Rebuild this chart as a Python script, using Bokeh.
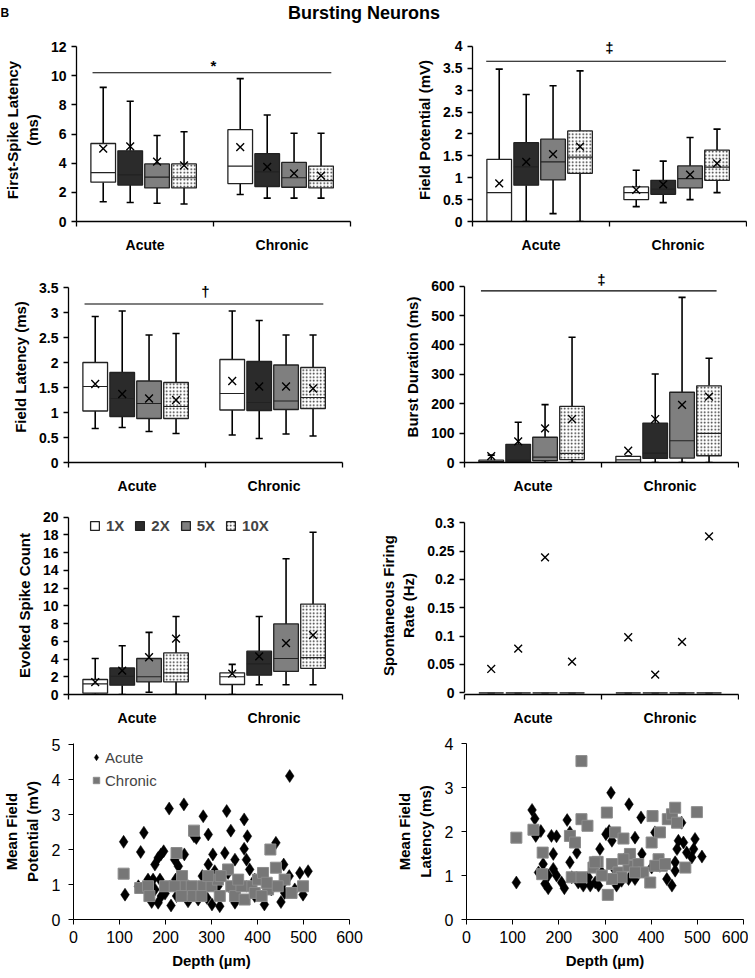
from bokeh.plotting import figure
from bokeh.layouts import column, row
from bokeh.models import (Range1d, FixedTicker, Label, Legend, LegendItem,
                          ColumnDataSource)
from bokeh.embed import file_html
from bokeh.resources import INLINE

FONT = "Liberation Sans"

# ---------------- data ----------------
groups = ["Acute", "Chronic"]
doses = ["1X", "2X", "5X", "10X"]
# every box list: Acute 1X, 2X, 5X, 10X, Chronic 1X, 2X, 5X, 10X

# First-spike latency (ms)
fsl_min = [1.35, 1.3, 1.25, 1.2, 1.85, 1.6, 1.6, 1.6]
fsl_q1 = [2.7, 2.5, 2.3, 2.3, 2.6, 2.4, 2.35, 2.3]
fsl_med = [3.35, 3.2, 3.05, 3.0, 3.8, 3.4, 3.0, 2.8]
fsl_q3 = [5.35, 4.85, 3.95, 3.95, 6.3, 4.65, 4.05, 3.8]
fsl_max = [9.2, 8.25, 5.9, 6.15, 9.8, 7.3, 6.05, 6.05]
fsl_mean = [5.0, 5.15, 4.1, 3.85, 5.1, 3.75, 3.3, 3.15]
fsl_ticks = [0, 2, 4, 6, 8, 10, 12]
fsl_labels = ["0", "2", "4", "6", "8", "10", "12"]

# Field potential (mV)
fp_min = [0, 0, 0.18, 0, 0.34, 0.43, 0.5, 0.66]
fp_q1 = [0, 0.83, 0.95, 1.1, 0.5, 0.62, 0.77, 0.94]
fp_med = [0.66, 1.25, 1.36, 1.47, 0.66, 0.74, 0.98, 1.24]
fp_q3 = [1.42, 1.8, 1.88, 2.07, 0.79, 0.94, 1.27, 1.63]
fp_max = [3.48, 2.9, 3.1, 3.44, 1.17, 1.38, 1.92, 2.11]
fp_mean = [0.87, 1.36, 1.54, 1.71, 0.72, 0.85, 1.07, 1.33]
fp_ticks = [0, 0.5, 1, 1.5, 2, 2.5, 3, 3.5, 4]
fp_labels = ["0", "0.5", "1", "1.5", "2", "2.5", "3", "3.5", "4"]

# Field latency (ms)
fl_min = [0.68, 0.7, 0.62, 0.58, 0.55, 0.48, 0.57, 0.53]
fl_q1 = [1.03, 0.92, 0.88, 0.88, 1.05, 1.04, 1.06, 1.08]
fl_med = [1.52, 1.28, 1.18, 1.12, 1.38, 1.2, 1.23, 1.3]
fl_q3 = [2.0, 1.8, 1.63, 1.6, 2.06, 2.02, 1.95, 1.9]
fl_max = [2.92, 3.03, 2.55, 2.58, 3.03, 2.84, 2.55, 2.55]
fl_mean = [1.57, 1.37, 1.28, 1.25, 1.63, 1.52, 1.52, 1.48]
fl_ticks = [0, 0.5, 1, 1.5, 2, 2.5, 3, 3.5]
fl_labels = ["0", "0.5", "1", "1.5", "2", "2.5", "3", "3.5"]

# Burst duration (ms)
bd_min = [0, 0, 0, 0, 0, 0, 0, 0]
bd_q1 = [0, 2, 6, 10, 0, 14, 15, 23]
bd_med = [3, 8, 18, 31, 9, 32, 74, 99]
bd_q3 = [8, 62, 86, 191, 21, 134, 239, 261]
bd_max = [25, 137, 197, 426, 22, 301, 562, 355]
bd_mean = [22, 72, 116, 148, 40, 148, 196, 224]
bd_ticks = [0, 100, 200, 300, 400, 500, 600]
bd_labels = ["0", "100", "200", "300", "400", "500", "600"]

# Evoked spike count
es_min = [0, 0, 0.25, 0, 0, 1.1, 1.1, 1.1]
es_q1 = [0.15, 1.05, 1.42, 1.42, 1.13, 2.18, 2.6, 2.95]
es_med = [1.2, 2.06, 2.0, 2.44, 2.0, 3.45, 4.06, 4.15]
es_q3 = [1.69, 3.0, 4.06, 4.69, 2.44, 4.88, 7.96, 10.2]
es_max = [4.06, 5.5, 7.0, 8.8, 3.4, 8.8, 15.3, 18.3]
es_mean = [1.39, 2.7, 4.2, 6.3, 2.35, 4.3, 5.8, 6.7]
es_ticks = [0, 2, 4, 6, 8, 10, 12, 14, 16, 18, 20]
es_labels = ["0", "2", "4", "6", "8", "10", "12", "14", "16", "18", "20"]

# Spontaneous firing rate (Hz)
sfr_min = [0, 0, 0, 0, 0, 0, 0, 0]
sfr_q1 = [0, 0, 0, 0, 0, 0, 0, 0]
sfr_med = [0, 0, 0, 0, 0, 0, 0, 0]
sfr_q3 = [0, 0, 0, 0, 0, 0, 0, 0]
sfr_max = [0, 0, 0, 0, 0, 0, 0, 0]
sfr_mean = [0.042, 0.078, 0.239, 0.055, 0.098, 0.032, 0.09, 0.276]
sfr_ticks = [0, 0.05, 0.1, 0.15, 0.2, 0.25, 0.3]
sfr_labels = ["0", "0.05", "0.1", "0.15", "0.2", "0.25", "0.3"]

# Mean field potential vs depth
mfp_acute_depth = [109, 112, 153, 146, 141, 162, 170, 173, 177, 184, 190, 196, 188, 191, 199,
                   208, 240, 212, 220, 228, 222, 224, 241, 249, 262, 267, 282, 293, 271, 293,
                   303, 307, 301, 318, 329, 333, 342, 351, 362, 371, 371, 378, 376, 383, 394,
                   415, 440, 457, 469, 451, 454, 470, 492, 510, 499, 481, 314, 343, 280, 249,
                   290, 351, 394, 430, 459, 336, 235, 177, 184]
mfp_acute_val = [2.22, 0.71, 2.48, 1.93, 0.95, 1.14, 0.5, 1.14, 1.57, 1.76, 1.86, 1.95, 1.14,
                 0.67, 0.74, 3.17, 3.29, 0.4, 1.71, 1.52, 1.14, 0.67, 1.86, 0.52, 2.38, 2.33,
                 2.95, 2.43, 0.57, 1.57, 1.86, 1.38, 0.43, 0.38, 1.9, 3.1, 2.54, 1.71, 1.05,
                 2.02, 2.86, 2.38, 1.71, 1.43, 1.14, 0.43, 2.19, 1.57, 1.24, 0.5, 1.0, 4.1,
                 1.33, 1.38, 0.71, 0.86, 0.95, 0.86, 1.24, 0.95, 0.62, 0.48, 0.67, 0.86, 0.76,
                 1.33, 0.76, 0.86, 0.48]
mfp_chronic_depth = [109, 145, 162, 165, 224, 236, 240, 262, 257, 260, 282, 300, 314, 318, 336,
                     343, 351, 372, 387, 401, 412, 423, 428, 440, 459, 474, 499, 199, 220, 278,
                     320, 365, 394, 409, 444, 235, 293, 358, 420]
mfp_chronic_val = [1.31, 0.9, 0.95, 0.67, 1.9, 1.24, 0.95, 2.54, 0.95, 0.67, 0.95, 0.95, 1.14,
                   0.67, 1.43, 0.95, 0.67, 0.57, 0.95, 1.14, 1.33, 0.86, 2.0, 1.48, 1.14, 0.76,
                   0.95, 0.95, 0.95, 0.67, 1.24, 0.95, 0.76, 0.67, 0.95, 0.67, 1.24, 1.14, 1.05]

# Mean field latency vs depth
mfl_acute_depth = [108, 142, 148, 150, 161, 166, 170, 177, 184, 188, 195, 188, 195, 206, 212,
                   218, 224, 224, 239, 242, 253, 268, 279, 289, 286, 302, 313, 309, 315, 325,
                   336, 352, 347, 365, 369, 378, 380, 401, 408, 419, 434, 445, 452, 456, 466,
                   459, 470, 477, 492, 495, 510, 488, 452, 365, 320, 264, 228, 351, 177, 156, 293]
mfl_acute_val = [0.84, 2.49, 2.29, 1.9, 2.01, 1.26, 0.81, 0.71, 1.9, 1.49, 1.89, 1.15, 1.0,
                 0.84, 0.71, 2.26, 1.98, 1.3, 1.52, 0.84, 0.77, 0.77, 0.84, 1.6, 0.77, 1.94,
                 2.88, 2.01, 1.79, 0.77, 0.88, 2.62, 1.45, 1.86, 1.0, 2.32, 1.49, 1.18, 1.98,
                 1.22, 0.92, 0.77, 1.3, 1.6, 2.2, 1.79, 1.75, 1.52, 1.6, 1.83, 1.43, 1.41, 1.11,
                 0.92, 1.15, 0.96, 0.96, 0.92, 1.0, 1.07, 1.07]
mfl_chronic_depth = [108, 145, 165, 164, 224, 235, 249, 262, 249, 228, 249, 275, 284, 304, 306,
                     315, 322, 340, 329, 336, 354, 351, 372, 383, 398, 403, 401, 419, 416, 423,
                     436, 445, 452, 456, 474, 499, 315, 293, 278, 365, 409, 430, 340]
mfl_chronic_val = [1.86, 2.04, 1.52, 1.03, 1.9, 1.75, 2.28, 2.13, 3.6, 0.96, 0.96, 1.18, 1.31,
                   2.43, 0.56, 1.26, 1.98, 1.84, 1.07, 0.96, 1.49, 1.22, 1.26, 1.07, 0.84, 2.35,
                   1.75, 1.98, 1.37, 1.22, 2.28, 2.39, 2.54, 2.2, 1.18, 2.44, 0.92, 1.0, 1.3,
                   1.07, 1.22, 1.26, 1.37]
depth_ticks = [0, 100, 200, 300, 400, 500, 600]
depth_labels = ["0", "100", "200", "300", "400", "500", "600"]
mfp_ticks = [0, 1, 2, 3, 4, 5]
mfp_labels = ["0", "1", "2", "3", "4", "5"]
mfl_ticks = [0, 1, 2, 3, 4]
mfl_labels = ["0", "1", "2", "3", "4"]

# ---------------- style ----------------
OFFS = [0.195, 0.392, 0.588, 0.785]
BW = 0.18
CAP = 0.026
FILLS = ["white", "#2b2b2b", "#7f7f7f", "white"]
HATCH = ["blank", "blank", "blank", "dot"]
LEFT = dict(mbl=68, fw=274, mbr=28)
RIGHT = dict(mbl=94, fw=274, mbr=1)
ROWS = [dict(mbt=4, fh=183, mbb=35), dict(mbt=15, fh=191, mbb=37),
        dict(mbt=17, fh=178, mbb=35), dict(mbt=14, fh=176, mbb=50)]


def base_fig(col, rw, xr, yr):
    p = figure(frame_width=col["fw"], frame_height=rw["fh"], x_range=xr, y_range=yr,
               min_border_left=col["mbl"], min_border_right=col["mbr"],
               min_border_top=rw["mbt"], min_border_bottom=rw["mbb"],
               toolbar_location=None, output_backend="svg")
    p.grid.visible = False
    p.outline_line_color = None
    p.background_fill_color = "white"
    p.border_fill_color = "white"
    return p


def box_panel(col, rw, ybot, ytop, yticks, ylabels, ylab, mn, q1, md, q3, mx, mean,
              sig=None, box_line="#222222"):
    p = base_fig(col, rw, Range1d(0, len(groups)), Range1d(ybot, ytop))
    xs = [g + o for g in range(len(groups)) for o in OFFS]
    src = ColumnDataSource(dict(
        x=xs, l=[x - BW / 2 for x in xs], r=[x + BW / 2 for x in xs],
        cl=[x - CAP for x in xs], cr=[x + CAP for x in xs],
        mn=mn, q1=q1, md=md, q3=q3, mx=mx, mean=mean,
        fill=FILLS * len(groups), hatch=HATCH * len(groups)))
    kw = dict(source=src, line_color="black", line_width=1.6)
    p.segment(x0="x", y0="q3", x1="x", y1="mx", **kw)
    p.segment(x0="x", y0="q1", x1="x", y1="mn", **kw)
    p.segment(x0="cl", y0="mx", x1="cr", y1="mx", **kw)
    p.segment(x0="cl", y0="mn", x1="cr", y1="mn", **kw)
    box = p.quad(left="l", right="r", bottom="q1", top="q3", source=src,
                 fill_color="fill", line_color=box_line, line_width=1.3,
                 hatch_pattern="hatch", hatch_color="black", hatch_scale=3.5,
                 hatch_weight=1, hatch_alpha=0.85)
    p.segment(x0="l", y0="md", x1="r", y1="md", source=src, line_color=box_line,
              line_width=1.2)
    p.scatter(x="x", y="mean", source=src, marker="x", size=11, line_color="black",
              line_width=1.4)

    # axes
    xa, ya = p.xaxis[0], p.yaxis[0]
    xa.ticker = FixedTicker(ticks=[g + 0.5 for g in range(len(groups))],
                            minor_ticks=list(range(len(groups) + 1)))
    xa.major_label_overrides = {g + 0.5: name for g, name in enumerate(groups)}
    xa.major_tick_out = 0
    xa.major_tick_in = 0
    xa.minor_tick_out = 5
    xa.minor_tick_in = 0
    xa.minor_tick_line_color = "black"
    xa.minor_tick_line_width = 1.3
    xa.major_label_standoff = 10
    xa.bounds = (0, len(groups))
    ya.ticker = FixedTicker(ticks=yticks)
    ya.major_label_overrides = dict(zip(yticks, ylabels))
    ya.bounds = (yticks[0], yticks[-1])
    ya.major_tick_out = 5
    ya.major_tick_in = 0
    ya.major_label_standoff = 5
    ya.axis_label = ylab
    ya.axis_label_standoff = 7
    for ax in (xa, ya):
        ax.axis_line_color = "black"
        ax.axis_line_width = 1.3
        ax.major_tick_line_color = "black"
        ax.major_tick_line_width = 1.3
        ax.major_label_text_font = FONT
        ax.major_label_text_font_size = "14px"
        ax.major_label_text_font_style = "bold"
        ax.major_label_text_color = "black"
        ax.axis_label_text_font = FONT
        ax.axis_label_text_font_size = "15px"
        ax.axis_label_text_font_style = "bold"
        ax.axis_label_text_color = "black"
    if sig is not None:
        x0, x1, yl, sym, ysym = sig
        p.segment(x0=[x0], y0=[yl], x1=[x1], y1=[yl], line_color="black", line_width=1.1)
        p.add_layout(Label(x=1.0, y=ysym, text=sym, text_align="center",
                           text_baseline="middle", text_font=FONT, text_font_size="15px",
                           text_font_style="bold", text_color="black"))
    return p, box


def scatter_panel(col, rw, ymax, yticks, ylabels, ylab, ax_, ay_, cx_, cy_, legend=False):
    p = base_fig(col, rw, Range1d(0, 600), Range1d(0, ymax))
    a = p.scatter(ax_, ay_, marker="diamond", size=13, fill_color="black",
                  line_color="black", line_width=0.5)
    c = p.scatter(cx_, cy_, marker="square", size=11, fill_color="#777777",
                  line_color="#8c8c8c", line_width=1)
    xa, ya = p.xaxis[0], p.yaxis[0]
    xa.ticker = FixedTicker(ticks=depth_ticks)
    xa.major_label_overrides = dict(zip(depth_ticks, depth_labels))
    xa.axis_label = "Depth (µm)"
    xa.major_label_standoff = 6
    xa.axis_label_standoff = 6
    ya.ticker = FixedTicker(ticks=yticks)
    ya.major_label_overrides = dict(zip(yticks, ylabels))
    ya.axis_label = ylab
    ya.major_label_standoff = 8
    ya.axis_label_standoff = 8
    for ax in (xa, ya):
        ax.axis_line_color = "black"
        ax.axis_line_width = 1
        ax.major_tick_line_color = "black"
        ax.major_tick_out = 5
        ax.major_tick_in = 0
        ax.minor_tick_out = 0
        ax.minor_tick_in = 0
        ax.major_label_text_font = FONT
        ax.major_label_text_font_size = "16px"
        ax.major_label_text_color = "black"
        ax.axis_label_text_font = FONT
        ax.axis_label_text_font_size = "15px"
        ax.axis_label_text_font_style = "bold"
        ax.axis_label_text_color = "black"
    if legend:
        leg = Legend(items=[LegendItem(label=groups[0], renderers=[a]),
                            LegendItem(label=groups[1], renderers=[c])],
                     location=(15, rw["fh"] - 47), orientation="vertical",
                     glyph_width=16, glyph_height=16, label_height=20, label_width=10,
                     spacing=3, label_standoff=1, padding=0, margin=0,
                     border_line_color=None, background_fill_alpha=0,
                     label_text_font=FONT, label_text_font_size="15px")
        p.add_layout(leg)
    return p


# title strip
tp = figure(width=739, height=34, x_range=Range1d(0, 1), y_range=Range1d(0, 1),
            toolbar_location=None, output_backend="svg", min_border=0)
tp.axis.visible = False
tp.grid.visible = False
tp.outline_line_color = None
tp.add_layout(Label(x=0.492, y=0.62, text="Bursting Neurons", text_align="center",
                    text_baseline="middle", text_font=FONT, text_font_size="18px",
                    text_font_style="bold", text_color="black"))
tp.add_layout(Label(x=0.0, y=0.62, text="B", text_align="left", text_baseline="middle",
                    text_font=FONT, text_font_size="12px", text_font_style="bold",
                    text_color="black"))

p1, _ = box_panel(LEFT, ROWS[0], 0, 12.55, fsl_ticks, fsl_labels, "First-Spike Latency\n(ms)",
                  fsl_min, fsl_q1, fsl_med, fsl_q3, fsl_max, fsl_mean,
                  sig=(0.117, 1.86, 10.2, "*", 10.7))
p2, _ = box_panel(RIGHT, ROWS[0], 0, 4.18, fp_ticks, fp_labels, "Field Potential (mV)",
                  fp_min, fp_q1, fp_med, fp_q3, fp_max, fp_mean,
                  sig=(0.10, 1.85, 3.66, "‡", 3.98))
p3, _ = box_panel(LEFT, ROWS[1], 0, 3.82, fl_ticks, fl_labels, "Field Latency (ms)",
                  fl_min, fl_q1, fl_med, fl_q3, fl_max, fl_mean,
                  sig=(0.117, 1.86, 3.17, "†", 3.42))
p4, _ = box_panel(RIGHT, ROWS[1], 0, 650, bd_ticks, bd_labels, "Burst Duration (ms)",
                  bd_min, bd_q1, bd_med, bd_q3, bd_max, bd_mean,
                  sig=(0.12, 1.84, 584, "‡", 624))
p5, box5 = box_panel(LEFT, ROWS[2], 0, 20.07, es_ticks, es_labels, "Evoked Spike Count",
                     es_min, es_q1, es_med, es_q3, es_max, es_mean)
leg5 = Legend(items=[LegendItem(label=d, renderers=[box5], index=i) for i, d in enumerate(doses)],
              orientation="horizontal", location=(21, ROWS[2]["fh"] - 7 - 11),
              glyph_width=11, glyph_height=11, label_height=11, label_width=10,
              label_standoff=6, spacing=10, padding=0, margin=0,
              border_line_color=None, background_fill_alpha=0,
              label_text_font=FONT, label_text_font_size="15px",
              label_text_font_style="bold")
p5.add_layout(leg5)
p6, _ = box_panel(RIGHT, ROWS[2], -0.003, 0.311, sfr_ticks, sfr_labels,
                  "Spontaneous Firing\nRate (Hz)",
                  sfr_min, sfr_q1, sfr_med, sfr_q3, sfr_max, sfr_mean, box_line="#444444")
p7 = scatter_panel(dict(mbl=64, fw=276, mbr=30), ROWS[3], 5.03, mfp_ticks, mfp_labels,
                   "Mean Field\nPotential (mV)", mfp_acute_depth, mfp_acute_val,
                   mfp_chronic_depth, mfp_chronic_val, legend=True)
p8 = scatter_panel(dict(mbl=87, fw=277, mbr=5), ROWS[3], 4.0, mfl_ticks, mfl_labels,
                   "Mean Field\nLatency (ms)", mfl_acute_depth, mfl_acute_val,
                   mfl_chronic_depth, mfl_chronic_val)

layout = column(tp, row(p1, p2), row(p3, p4), row(p5, p6), row(p7, p8))
open("out.html", "w").write(file_html(layout, INLINE))
